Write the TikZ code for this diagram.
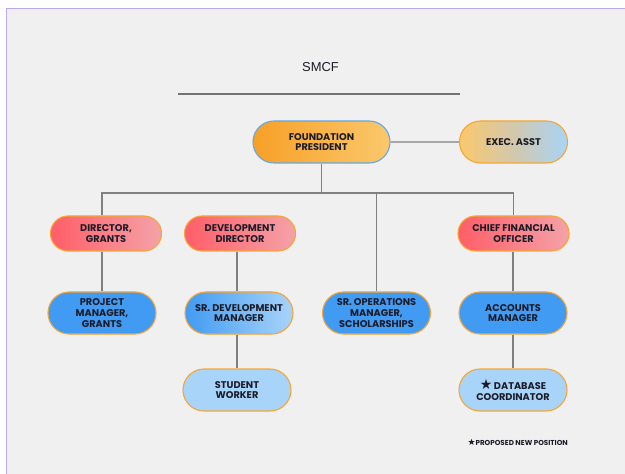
\documentclass[tikz,border=0pt]{standalone}
\usepackage{fontspec}
\setmainfont{Poppins}
\newfontfamily\titlefont{Liberation Sans}
\newfontfamily\symfont{DejaVu Sans}
\usetikzlibrary{positioning,shapes.misc}
\definecolor{pageGray}{RGB}{240,240,240}
\definecolor{frameLilac}{RGB}{185,168,240}
\definecolor{lineGray}{RGB}{128,128,128}
\definecolor{inkDark}{RGB}{28,28,40}
\definecolor{presOrange}{RGB}{247,160,39}
\definecolor{presLight}{RGB}{251,200,108}
\definecolor{presEdge}{RGB}{96,168,232}
\definecolor{asstBlue}{RGB}{168,212,248}
\definecolor{asstMid}{RGB}{210,200,172}
\definecolor{dirRed}{RGB}{255,94,104}
\definecolor{dirPink}{RGB}{244,162,168}
\definecolor{boxEdge}{RGB}{245,166,52}
\definecolor{mgrBlue}{RGB}{66,155,242}
\definecolor{staffBlue}{RGB}{168,212,250}

\begin{document}
\begin{tikzpicture}[x=1bp, y=-1bp,
    pill/.style={rounded rectangle, draw=boxEdge, line width=1.1bp, text=inkDark,
      align=center, inner sep=0pt, minimum width=108bp, minimum height=42bp,
      font=\fontsize{9.8}{10.6}\selectfont\bfseries},
    headbox/.style={pill, left color=presOrange, right color=presLight, draw=presEdge, minimum width=137bp},
    asstbox/.style={pill, left color=presLight, right color=asstBlue, middle color=asstMid},
    dirbox/.style={pill, left color=dirRed, right color=dirPink, minimum height=35bp, minimum width=111bp},
    mgrbox/.style={pill, fill=mgrBlue},
    staffbox/.style={pill, fill=staffBlue},
    conn/.style={draw=lineGray, line width=1.1bp}]
    % page and frame
    \useasboundingbox (0,0) rectangle (625,474);
    \fill[white] (0,0) rectangle (625,474);
    \fill[pageGray] (6,9) rectangle (625,474);
    \draw[frameLilac, line width=1bp] (6,474) -- (6,9) -- (625,9);
    % title
    \node[inkDark] (title) at (320.5,67) {\titlefont\fontsize{13}{15}\selectfont SMCF};
    \coordinate (ruleL) at (178,94);
    \coordinate (ruleR) at (460,94);
    \draw[lineGray!90!black, line width=1.4bp] (ruleL) -- (ruleR);
    % top level
    \node[headbox] (pres) at (321.5,142) {FOUNDATION\\PRESIDENT};
    \node[asstbox] (asst) at (513.5,142) {EXEC. ASST};
    % directors
    \node[dirbox] (dgr) at (106,233.5) {DIRECTOR,\\GRANTS};
    \node[dirbox] (ddir) at (240,233.5) {DEVELOPMENT\\DIRECTOR};
    \node[dirbox] (cfo) at (513.5,233.5) {CHIEF FINANCIAL\\OFFICER};
    % managers
    \node[mgrbox] (pm) at (102,313) {PROJECT\\MANAGER,\\GRANTS};
    \node[mgrbox, left color=mgrBlue, right color=staffBlue] (sdev) at (239,313) {SR. DEVELOPMENT\\MANAGER};
    \node[mgrbox] (sops) at (376.5,313) {SR. OPERATIONS\\MANAGER,\\SCHOLARSHIPS};
    \node[mgrbox] (acct) at (513,313) {ACCOUNTS\\MANAGER};
    % staff
    \node[staffbox] (stud) at (237,390) {STUDENT\\WORKER};
    \node[staffbox] (dbc) at (513,390) {{\symfont\fontsize{14}{11}\selectfont\char"2605}\,DATABASE\\COORDINATOR};
    % connectors
    \coordinate (bus) at (321.5,193);
    \draw[conn] (pres) -- (asst);
    \draw[conn] (pres.south) -- (bus);
    \draw[conn] (dgr.north -| pm) |- (bus) -| (cfo.north);
    \draw[conn] (ddir.north -| stud) -- (ddir.north -| stud |- bus);
    \draw[conn] (sops.north) -- (sops.north |- bus);
    \draw[conn] (dgr.south -| pm) -- (pm.north);
    \draw[conn] (ddir.south -| stud) -- (sdev.north -| stud);
    \draw[conn] (sdev.south -| stud) -- (stud.north);
    \draw[conn] (cfo.south -| acct) -- (acct.north);
    \draw[conn] (acct.south) -- (dbc.north);
    % footnote
    \node[inkDark, anchor=west, font=\fontsize{7.2}{8}\selectfont\bfseries] (note) at (464,442)
      {{\symfont\fontsize{9}{8}\selectfont\char"2605}PROPOSED NEW POSITION};
  \end{tikzpicture}
\end{document}
